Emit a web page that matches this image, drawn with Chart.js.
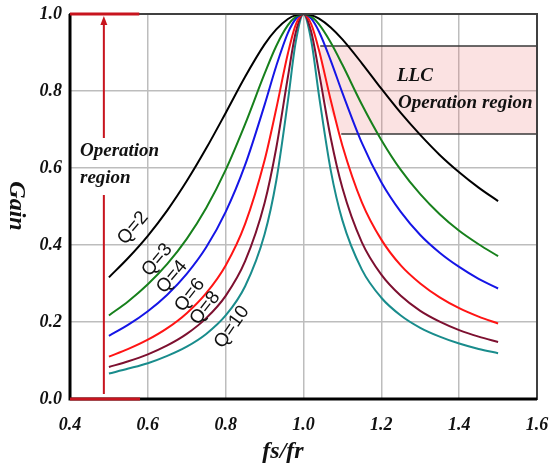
<!DOCTYPE html>
<html>
<head>
<meta charset="utf-8">
<script src="https://cdn.jsdelivr.net/npm/chart.js@4"></script>
<style>
  html, body { margin: 0; padding: 0; background: #fff; }
  #wrap { width: 549px; height: 468px; }
</style>
</head>
<body>
<div id="wrap"><canvas id="gainChart" width="549" height="468"></canvas></div>
<script>
// normalized switching frequency fs/fr
const fsfr = [0.5, 0.55, 0.6, 0.65, 0.7, 0.75, 0.8, 0.85, 0.9, 0.93, 0.96, 0.98, 1.0,
              1.02, 1.04, 1.07, 1.1, 1.15, 1.2, 1.25, 1.3, 1.35, 1.4, 1.45, 1.5];

// gain curves, one per Q
const gainQ2  = [0.316, 0.367, 0.424, 0.490, 0.566, 0.651, 0.743, 0.837, 0.921, 0.960, 0.987, 0.997, 1.0,
                 0.997, 0.988, 0.965, 0.934, 0.872, 0.806, 0.743, 0.686, 0.634, 0.589, 0.549, 0.514];
const gainQ3  = [0.217, 0.254, 0.298, 0.351, 0.416, 0.496, 0.595, 0.714, 0.845, 0.917, 0.971, 0.993, 1.0,
                 0.993, 0.973, 0.926, 0.868, 0.765, 0.673, 0.595, 0.532, 0.480, 0.437, 0.402, 0.371];
const gainQ4  = [0.164, 0.193, 0.228, 0.271, 0.325, 0.394, 0.486, 0.608, 0.764, 0.865, 0.951, 0.987, 1.0,
                 0.988, 0.954, 0.879, 0.795, 0.665, 0.563, 0.486, 0.426, 0.380, 0.343, 0.312, 0.287];
const gainQ6  = [0.110, 0.130, 0.154, 0.184, 0.223, 0.275, 0.347, 0.455, 0.620, 0.754, 0.898, 0.972, 1.0,
                 0.973, 0.905, 0.776, 0.658, 0.511, 0.414, 0.347, 0.300, 0.264, 0.236, 0.214, 0.196];
const gainQ8  = [0.083, 0.098, 0.116, 0.139, 0.169, 0.210, 0.268, 0.358, 0.509, 0.652, 0.837, 0.952, 1.0,
                 0.953, 0.847, 0.678, 0.548, 0.407, 0.323, 0.268, 0.229, 0.201, 0.179, 0.162, 0.148];
const gainQ10 = [0.066, 0.079, 0.093, 0.112, 0.136, 0.169, 0.217, 0.293, 0.428, 0.567, 0.775, 0.927, 1.0,
                 0.930, 0.787, 0.594, 0.464, 0.336, 0.263, 0.217, 0.185, 0.162, 0.144, 0.130, 0.119];

const qNames = ['Q=2', 'Q=3', 'Q=4', 'Q=6', 'Q=8', 'Q=10'];
const qColors = ['#000000', '#17801c', '#1515e6', '#ff1414', '#7d1030', '#198c8c'];
const allGains = [gainQ2, gainQ3, gainQ4, gainQ6, gainQ8, gainQ10];

// where each Q label sits (data units) and its slant
const qLabelX = [0.562, 0.624, 0.662, 0.708, 0.747, 0.816];
const qLabelY = [0.444, 0.361, 0.317, 0.270, 0.236, 0.187];
const qLabelAngle = [-50, -50, -50, -52, -52, -55];

const xTickValues = [0.4, 0.6, 0.8, 1.0, 1.2, 1.4, 1.6];
const yTickValues = [0.0, 0.2, 0.4, 0.6, 0.8, 1.0];

const serif = "'Liberation Serif', 'Times New Roman', serif";
const RED = '#c8141e';

const datasets = allGains.map((g, i) => ({
    label: qNames[i],
    data: fsfr.map((f, k) => ({ x: f, y: g[k] })),
    borderColor: qColors[i],
    borderWidth: 2,
    pointRadius: 0,
    cubicInterpolationMode: 'monotone',
    fill: false
}));

const px = (chart, v) => chart.scales.x.getPixelForValue(v);
const py = (chart, v) => chart.scales.y.getPixelForValue(v);

const decoPlugin = {
    id: 'deco',
    beforeDatasetsDraw(chart) {
        const ctx = chart.ctx;
        // LLC operation region box
        ctx.save();
        ctx.beginPath();
        ctx.moveTo(px(chart, 1.043), py(chart, 0.917));
        ctx.lineTo(px(chart, 1.6), py(chart, 0.917));
        ctx.lineTo(px(chart, 1.6), py(chart, 0.688));
        ctx.lineTo(px(chart, 1.097), py(chart, 0.688));
        ctx.lineTo(px(chart, 1.046), py(chart, 0.80));
        ctx.closePath();
        ctx.fillStyle = 'rgba(235, 110, 110, 0.2)';
        ctx.fill();
        ctx.strokeStyle = '#3a3a3a';
        ctx.lineWidth = 1.5;
        ctx.beginPath();
        ctx.moveTo(px(chart, 1.043), py(chart, 0.917));
        ctx.lineTo(px(chart, 1.6), py(chart, 0.917));
        ctx.moveTo(px(chart, 1.097), py(chart, 0.688));
        ctx.lineTo(px(chart, 1.6), py(chart, 0.688));
        ctx.stroke();
        ctx.restore();
    },
    afterDatasetsDraw(chart) {
        const ctx = chart.ctx;
        const a = chart.chartArea;
        ctx.save();

        // frame
        ctx.strokeStyle = '#404040';
        ctx.lineWidth = 2;
        ctx.strokeRect(a.left, a.top, a.right - a.left, a.bottom - a.top);
        ctx.strokeStyle = '#000';
        ctx.lineWidth = 3;
        ctx.beginPath();
        ctx.moveTo(a.left, a.top);
        ctx.lineTo(a.left, a.bottom);
        ctx.lineTo(a.right, a.bottom);
        ctx.stroke();

        // red operation-region marker on the left
        ctx.strokeStyle = RED;
        ctx.fillStyle = RED;
        ctx.lineWidth = 3;
        ctx.beginPath();
        ctx.moveTo(px(chart, 0.4), py(chart, 1.0));
        ctx.lineTo(px(chart, 0.578), py(chart, 1.0));
        ctx.moveTo(px(chart, 0.4), py(chart, 0.0));
        ctx.lineTo(px(chart, 0.58), py(chart, 0.0));
        ctx.stroke();
        const ax = px(chart, 0.487);
        ctx.lineWidth = 2;
        ctx.beginPath();
        ctx.moveTo(ax, py(chart, 0.013));
        ctx.lineTo(ax, py(chart, 0.53));
        ctx.moveTo(ax, py(chart, 0.678));
        ctx.lineTo(ax, py(chart, 0.985));
        ctx.stroke();
        const tip = py(chart, 1.0) + 2;
        ctx.beginPath();
        ctx.moveTo(ax, tip);
        ctx.lineTo(ax - 3.5, tip + 9);
        ctx.lineTo(ax + 3.5, tip + 9);
        ctx.closePath();
        ctx.fill();

        // annotation texts
        ctx.fillStyle = '#111';
        ctx.textBaseline = 'middle';
        ctx.textAlign = 'left';
        ctx.font = 'italic bold 19px ' + serif;
        ctx.fillText('Operation', 80, 151);
        ctx.fillText('region', 80, 178);
        ctx.fillText('LLC', 397, 76);
        ctx.fillText('Operation region', 398, 103);

        // Q labels along the curves
        ctx.font = "19px 'Liberation Sans', Arial, sans-serif";
        ctx.textAlign = 'center';
        qNames.forEach((name, i) => {
            ctx.save();
            ctx.translate(px(chart, qLabelX[i]), py(chart, qLabelY[i]));
            ctx.rotate(qLabelAngle[i] * Math.PI / 180);
            ctx.fillStyle = '#111';
            ctx.fillText(name, 0, 0);
            ctx.restore();
        });

        // axis titles
        ctx.font = 'italic bold 24px ' + serif;
        ctx.fillText('fs/fr', 283, 452);
        ctx.save();
        ctx.translate(16, 206);
        ctx.rotate(Math.PI / 2);
        ctx.fillText('Gain', 0, 0);
        ctx.restore();

        ctx.restore();
    }
};

new Chart(document.getElementById('gainChart'), {
    type: 'line',
    data: { datasets },
    options: {
        responsive: false,
        animation: false,
        layout: { padding: { left: 0, right: 12, top: 14, bottom: 0 } },
        plugins: { legend: { display: false }, tooltip: { enabled: false } },
        scales: {
            x: {
                type: 'linear',
                min: 0.4,
                max: 1.6,
                afterFit: (s) => { s.height = 69; s.paddingLeft = 0; s.paddingRight = 0; },
                afterBuildTicks: (s) => { s.ticks = xTickValues.map(v => ({ value: v })); },
                ticks: {
                    padding: 16,
                    color: '#111',
                    font: { family: serif, size: 18, style: 'italic', weight: 'bold' },
                    callback: (v) => Number(v).toFixed(1)
                },
                grid: { color: '#bdbdbd', lineWidth: 1.5, drawTicks: false },
                border: { display: false }
            },
            y: {
                min: 0,
                max: 1,
                afterFit: (s) => { s.width = 70; s.paddingTop = 0; s.paddingBottom = 0; },
                afterBuildTicks: (s) => { s.ticks = yTickValues.map(v => ({ value: v })); },
                ticks: {
                    padding: 8,
                    color: '#111',
                    font: { family: serif, size: 18, style: 'italic', weight: 'bold' },
                    callback: (v) => Number(v).toFixed(1)
                },
                grid: { color: '#bdbdbd', lineWidth: 1.5, drawTicks: false },
                border: { display: false }
            }
        }
    },
    plugins: [decoPlugin]
});
</script>
</body>
</html>
